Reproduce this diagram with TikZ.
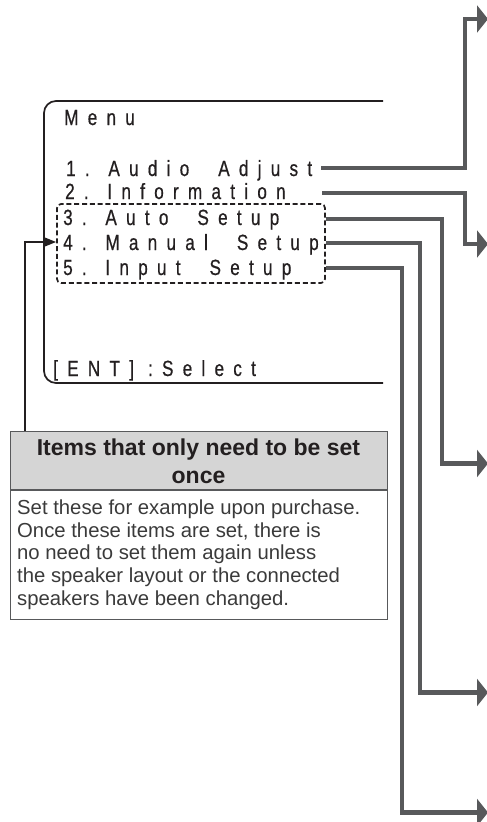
\documentclass[tikz,border=0pt]{standalone}
\usepackage{fontspec}
\setmainfont{Liberation Sans}
\newfontfamily\lcdfont[FakeStretch=0.78,LetterSpace=42,FakeBold=0.6]{Liberation Sans}
\newcommand\wgap{\hspace{15pt}}
\usetikzlibrary{arrows.meta}
\definecolor{ink}{HTML}{231F20}
\definecolor{conn}{HTML}{58595B}
\definecolor{hdrfill}{HTML}{D5D5D5}
\definecolor{bodyink}{HTML}{3A3A3A}
\begin{document}
\begin{tikzpicture}[x=1pt,y=-1pt,
  lcd/.style={font=\lcdfont\fontsize{22}{24}\selectfont, text=ink, inner sep=0pt, anchor=base west},
  frameline/.style={draw=ink, line width=1.7pt},
  selbox/.style={draw=ink, line width=1.7pt, dash pattern=on 5pt off 2.8pt, rounded corners=4pt, minimum width=268pt, minimum height=79pt, inner sep=0pt},
  connline/.style={draw=conn, line width=4.5pt, line join=miter, -{Triangle[length=11pt,width=27pt]}},
  blkarrow/.style={draw=ink, line width=1.6pt, -{Triangle[length=13pt,width=10pt]}},
  hdrbox/.style={draw=conn, line width=1pt, fill=hdrfill, minimum width=377pt, minimum height=58pt, inner sep=0pt},
  hdrtext/.style={inner sep=0pt, align=center, text=ink, anchor=base, font=\bfseries\fontsize{23}{28}\selectfont},
  bodybox/.style={draw=conn, line width=1pt, minimum width=377pt, minimum height=129pt, inner sep=0pt},
  bodytext/.style={anchor=base west, inner sep=0pt, text=bodyink, align=left, font=\fontsize{20.3}{22.6}\selectfont}
]
\useasboundingbox (0,0) rectangle (487,822);

% menu frame (open on the right)
\draw[frameline, rounded corners=12pt] (383,101) -- (44,101) -- (44,383) -- (383,383);

% menu texts
\node[lcd] (menu) at (64,125) {Menu};
\node[lcd] (m1) at (66,176) {1. Audio \wgap Adjust};
\node[lcd] (m2) at (65,199) {2. Information};
\node[lcd] (m3) at (63,225) {3. Auto \wgap Setup};
\node[lcd] (m4) at (63,250) {4. Manual \wgap Setup};
\node[lcd] (m5) at (63,275) {5. Input \wgap Setup};
\node[lcd] (ent) at (53,376) {[ENT] :Select};

% dashed selection box
\node[selbox] (sel) at (191,243.5) {};

% connector start / knee / tip coordinates
\coordinate (s1) at (321,168);
\coordinate (s2) at (322,193);
\coordinate (s3) at (sel.east |- 0,219);
\coordinate (s4) at (sel.east |- 0,243);
\coordinate (s5) at (sel.east |- 0,268);
\coordinate (k1) at (465,19);
\coordinate (k2) at (465,244);
\coordinate (k3) at (442,463.5);
\coordinate (k4) at (420,692.5);
\coordinate (k5) at (402,812.5);
\coordinate (t1) at (488,19);
\coordinate (t2) at (488,244);
\coordinate (t3) at (488,463.5);
\coordinate (t4) at (488,692.5);
\coordinate (t5) at (488,812.5);

\draw[connline] (s1) -- (k1 |- s1) -- (k1) -- (t1);
\draw[connline] (s2) -- (k2 |- s2) -- (k2) -- (t2);
\draw[connline] (s3) -- (k3 |- s3) -- (k3) -- (t3);
\draw[connline] (s4) -- (k4 |- s4) -- (k4) -- (t4);
\draw[connline] (s5) -- (k5 |- s5) -- (k5) -- (t5);

% note box
\node[hdrbox] (hdr) at (198.5,460.5) {};
\node[bodybox, anchor=north] (body) at (hdr.south) {};
\node[hdrtext] (hdrtxt) at (198.5,483) {Items that only need to be set\\once};
\node[bodytext] (bodytxt) at (17,605)
  {Set these for example upon purchase.\\Once these items are set, there is\\no need to set them again unless\\the speaker layout or the connected\\speakers have been changed.};

% black arrow from note box to selection box
\coordinate (bk) at (25,242);
\draw[blkarrow] (hdr.north -| bk) -- (bk) -- (sel.west |- bk);
\end{tikzpicture}
\end{document}
